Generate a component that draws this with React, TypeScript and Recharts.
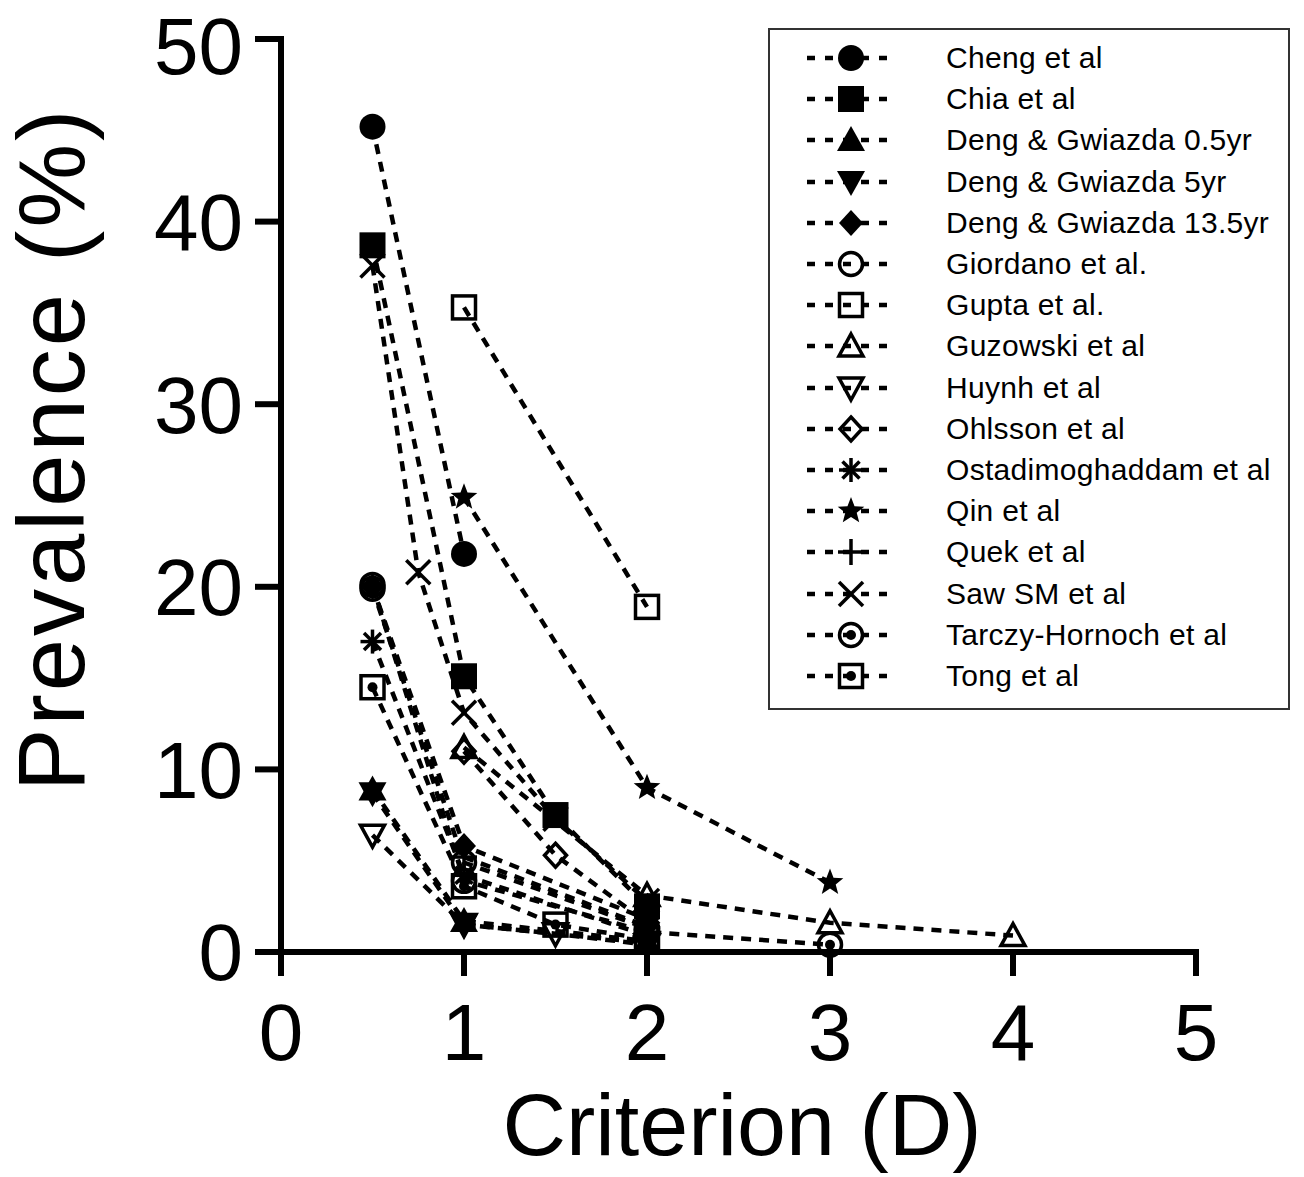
import React from "react";
import { LineChart, Line, XAxis, YAxis, Legend } from "recharts";

// criterion (D), prevalence (%) pairs
const cheng = [[0.5, 45.2], [1, 21.8]];
const chia = [[0.5, 38.7], [1, 15.1], [1.5, 7.5], [2, 2.5]];
const deng05 = [[0.5, 8.9], [1, 1.7], [2, 0.6]];
const deng5 = [[0.5, 8.7], [1, 1.5], [2, 0.5]];
const deng135 = [[0.5, 20.0], [1, 5.8], [2, 1.8]];
const giordano = [[0.5, 19.9], [1, 4.9], [2, 1.3]];
const gupta = [[1, 35.3], [2, 18.9]];
const guzowski = [[1, 11.2], [2, 3.1], [3, 1.6], [4, 0.9]];
const huynh = [[0.5, 6.4], [1, 1.5], [1.5, 1.0], [2, 0.4]];
const ohlsson = [[1, 11.0], [1.5, 5.3], [2, 1.6]];
const ostadi = [[0.5, 17.0], [1, 4.2], [2, 0.9]];
const qin = [[1, 24.9], [2, 9.0], [3, 3.8]];
const quek = [[1, 5.2], [2, 1.4]];
const saw = [[0.5, 37.6], [0.75, 20.8], [1, 13.1], [1.5, 7.3], [2, 2.8]];
const tarczy = [[0.5, 20.1], [1, 3.9], [2, 1.1], [3, 0.4]];
const tong = [[0.5, 14.5], [1, 3.6], [1.5, 1.5], [2, 0.7]];

const studyNames = [
  "Cheng et al",
  "Chia et al",
  "Deng & Gwiazda 0.5yr",
  "Deng & Gwiazda 5yr",
  "Deng & Gwiazda 13.5yr",
  "Giordano et al.",
  "Gupta et al.",
  "Guzowski et al",
  "Huynh et al",
  "Ohlsson et al",
  "Ostadimoghaddam et al",
  "Qin et al",
  "Quek et al",
  "Saw SM et al",
  "Tarczy-Hornoch et al",
  "Tong et al",
];
const studyShapes = [
  "circle", "square", "triUp", "triDown", "diamond", "openCircle", "openSquare", "openTriUp",
  "openTriDown", "openDiamond", "asterisk", "star", "plus", "cross", "circleDot", "squareDot",
];
const studyPoints = [
  cheng, chia, deng05, deng5, deng135, giordano, gupta, guzowski,
  huynh, ohlsson, ostadi, qin, quek, saw, tarczy, tong,
];

const xTicks = [0, 1, 2, 3, 4, 5];
const yTicks = [0, 10, 20, 30, 40, 50];

const FONT = "'Liberation Sans', Arial, Helvetica, sans-serif";
const SW = 3.5;

function Marker({ shape, cx, cy }: { shape: string; cx: number; cy: number }) {
  const open = { fill: "none", stroke: "#000", strokeWidth: SW };
  const ln = { stroke: "#000", strokeWidth: SW };
  let el: React.ReactNode = null;
  switch (shape) {
    case "circle":
      el = <circle r={13} fill="#000" />;
      break;
    case "square":
      el = <rect x={-13} y={-13} width={26} height={26} fill="#000" />;
      break;
    case "triUp":
      el = <polygon points="0,-14 14,11 -14,11" fill="#000" />;
      break;
    case "triDown":
      el = <polygon points="0,14 14,-11 -14,-11" fill="#000" />;
      break;
    case "diamond":
      el = <polygon points="0,-13 12,0 0,13 -12,0" fill="#000" />;
      break;
    case "openCircle":
      el = <circle r={11.5} {...open} />;
      break;
    case "openSquare":
      el = <rect x={-11.5} y={-11.5} width={23} height={23} {...open} />;
      break;
    case "openTriUp":
      el = <polygon points="0,-12 12,10 -12,10" {...open} />;
      break;
    case "openTriDown":
      el = <polygon points="0,12 12,-10 -12,-10" {...open} />;
      break;
    case "openDiamond":
      el = <polygon points="0,-12 11,0 0,12 -11,0" {...open} />;
      break;
    case "asterisk":
      el = (
        <g {...ln}>
          <line x1={0} y1={-12} x2={0} y2={12} />
          <line x1={-12} y1={0} x2={12} y2={0} />
          <line x1={-8.5} y1={-8.5} x2={8.5} y2={8.5} />
          <line x1={-8.5} y1={8.5} x2={8.5} y2={-8.5} />
        </g>
      );
      break;
    case "star": {
      const pts: string[] = [];
      for (let i = 0; i < 10; i++) {
        const r = i % 2 === 0 ? 14 : 6;
        const a = -Math.PI / 2 + (i * Math.PI) / 5;
        pts.push(`${(r * Math.cos(a)).toFixed(2)},${(r * Math.sin(a)).toFixed(2)}`);
      }
      el = <polygon points={pts.join(" ")} fill="#000" />;
      break;
    }
    case "plus":
      el = (
        <g {...ln}>
          <line x1={0} y1={-13} x2={0} y2={13} />
          <line x1={-13} y1={0} x2={13} y2={0} />
        </g>
      );
      break;
    case "cross":
      el = (
        <g {...ln}>
          <line x1={-12} y1={-12} x2={12} y2={12} />
          <line x1={-12} y1={12} x2={12} y2={-12} />
        </g>
      );
      break;
    case "circleDot":
      el = (
        <g>
          <circle r={11.5} {...open} />
          <circle r={5} fill="#000" />
        </g>
      );
      break;
    case "squareDot":
      el = (
        <g>
          <rect x={-11.5} y={-11.5} width={23} height={23} {...open} />
          <circle r={5} fill="#000" />
        </g>
      );
      break;
  }
  return <g transform={`translate(${cx},${cy})`}>{el}</g>;
}

function LegendBox() {
  return (
    <div
      style={{
        position: "relative",
        width: 522,
        height: 682,
        border: "2px solid #333",
        boxSizing: "border-box",
        background: "#fff",
        fontFamily: FONT,
      }}
    >
      {studyNames.map((name, i) => (
        <div
          key={name}
          style={{ position: "absolute", left: 0, top: 8 + i * 41.2, height: 40, width: 518 }}
        >
          <svg width={100} height={40} style={{ position: "absolute", left: 37, top: 0 }}>
            <line x1={0} y1={20} x2={90} y2={20} stroke="#000" strokeWidth={4.5} strokeDasharray="8 10" />
            <Marker shape={studyShapes[i]} cx={44} cy={20} />
          </svg>
          <span
            style={{
              position: "absolute",
              left: 176,
              top: 0,
              lineHeight: "40px",
              fontSize: 30,
              color: "#000",
              letterSpacing: 0.3,
              whiteSpace: "nowrap",
            }}
          >
            {name}
          </span>
        </div>
      ))}
    </div>
  );
}

export default function App() {
  const tickStyle = { fontSize: 80, fill: "#000", fontFamily: FONT };
  return (
    <div style={{ position: "absolute", left: 0, top: 0, width: 1304, height: 1177, background: "#fff" }}>
      <LineChart width={1304} height={1177} margin={{ top: 39, right: 108, bottom: 125, left: 81 }}>
        <XAxis
          type="number"
          dataKey="x"
          domain={[0, 5]}
          ticks={xTicks}
          allowDataOverflow
          height={100}
          axisLine={{ stroke: "#000", strokeWidth: 6, strokeLinecap: "square" }}
          tickLine={{ stroke: "#000", strokeWidth: 6 }}
          tickSize={24}
          tickMargin={27}
          tick={tickStyle}
        />
        <YAxis
          type="number"
          domain={[0, 50]}
          ticks={yTicks}
          width={200}
          axisLine={{ stroke: "#000", strokeWidth: 6, strokeLinecap: "square" }}
          tickLine={{ stroke: "#000", strokeWidth: 6 }}
          tickSize={26}
          tickMargin={12}
          tick={tickStyle}
        />
        {studyPoints.map((pts, i) => (
          <Line
            key={studyNames[i]}
            name={studyNames[i]}
            data={pts.map(([x, y]) => ({ x, y }))}
            dataKey="y"
            type="linear"
            stroke="#000"
            strokeWidth={4.5}
            strokeDasharray="10 8"
            activeDot={false}
            isAnimationActive={false}
            dot={(p: any) => (
              <Marker key={`${studyNames[i]}-${p.index}`} shape={studyShapes[i]} cx={p.cx} cy={p.cy} />
            )}
          />
        ))}
        <Legend
          layout="vertical"
          align="center"
          verticalAlign="middle"
          wrapperStyle={{ left: 768, top: 28, width: 522, height: 682 }}
          content={() => <LegendBox />}
        />
        <text
          x={84}
          y={449}
          transform="rotate(-90 84 449)"
          textAnchor="middle"
          fontSize={94}
          letterSpacing={3}
          fontFamily={FONT}
          fill="#000"
        >
          Prevalence (%)
        </text>
        <text x={742} y={1155} textAnchor="middle" fontSize={88} fontFamily={FONT} fill="#000">
          Criterion (D)
        </text>
      </LineChart>
    </div>
  );
}
